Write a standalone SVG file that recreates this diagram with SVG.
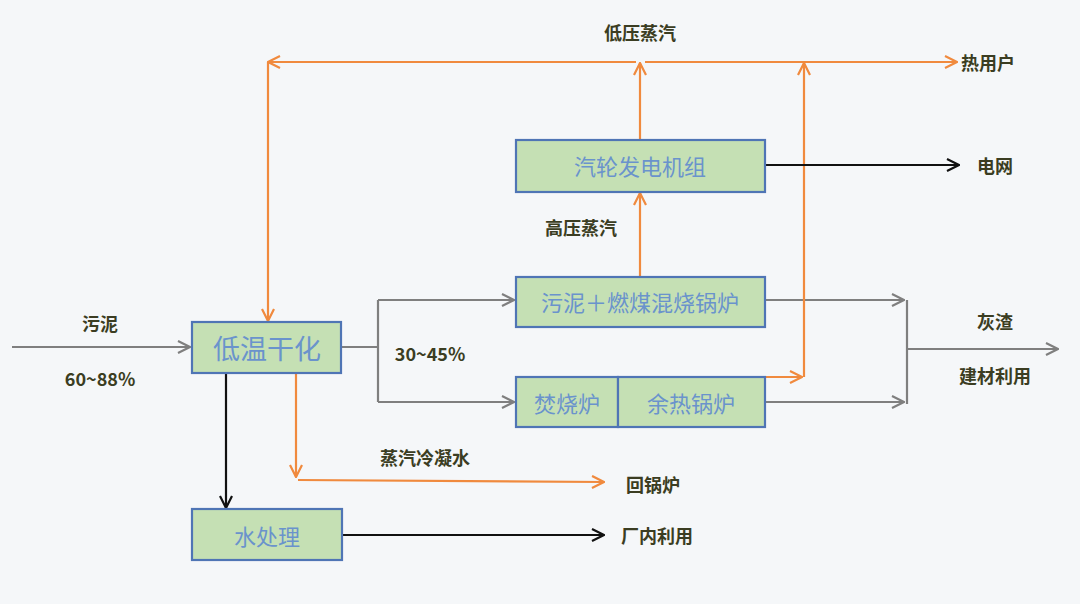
<svg xmlns="http://www.w3.org/2000/svg" width="1080" height="604" viewBox="0 0 1080 604">
<style>
.box{fill:#c5e0b4;stroke:#4f75b5;stroke-width:2.2}
.bt{font-family:"Noto Sans CJK SC","Noto Sans",sans-serif;fill:#6a93cc;text-anchor:middle;dominant-baseline:central}
.lb{font-family:"Noto Sans CJK SC","Liberation Sans",sans-serif;font-weight:bold;font-size:18px;fill:#3b3d22;text-anchor:middle;dominant-baseline:central}
.g{stroke:#7f7f7f;stroke-width:2.2;fill:none}
.o{stroke:#f08a3e;stroke-width:2.2;fill:none}
.k{stroke:#111;stroke-width:2.2;fill:none}
</style>
<defs>
<marker id="ag" viewBox="0 0 14 14" refX="13" refY="7" markerWidth="14" markerHeight="14" markerUnits="userSpaceOnUse" orient="auto"><path d="M1,1 L13,7 L1,13" fill="none" stroke="#7f7f7f" stroke-width="2.2"/></marker>
<marker id="ao" viewBox="0 0 14 14" refX="13" refY="7" markerWidth="14" markerHeight="14" markerUnits="userSpaceOnUse" orient="auto"><path d="M1,1 L13,7 L1,13" fill="none" stroke="#f08a3e" stroke-width="2.2"/></marker>
<marker id="ak" viewBox="0 0 14 14" refX="13" refY="7" markerWidth="14" markerHeight="14" markerUnits="userSpaceOnUse" orient="auto"><path d="M1,1 L13,7 L1,13" fill="none" stroke="#111" stroke-width="2.2"/></marker>
</defs>
<rect width="1080" height="604" fill="#f5f7f9"/>
<g id="connectors">
<line class="g" x1="12" y1="347" x2="190" y2="347" marker-end="url(#ag)"/>
<polyline class="g" points="342,347 378,347"/>
<polyline class="g" points="378,300 378,402"/>
<line class="g" x1="378" y1="300" x2="514" y2="300" marker-end="url(#ag)"/>
<line class="g" x1="378" y1="402" x2="514" y2="402" marker-end="url(#ag)"/>
<line class="g" x1="765" y1="300" x2="904" y2="300" marker-end="url(#ag)"/>
<line class="g" x1="765" y1="402" x2="904" y2="402" marker-end="url(#ag)"/>
<polyline class="g" points="907,300 907,404"/>
<line class="g" x1="907" y1="349" x2="1058" y2="349" marker-end="url(#ag)"/>
<line class="o" x1="640" y1="277" x2="640" y2="193" marker-end="url(#ao)"/>
<line class="o" x1="640" y1="140" x2="640" y2="63" marker-end="url(#ao)"/>
<line class="o" x1="636" y1="62" x2="268" y2="62" marker-end="url(#ao)"/>
<line class="o" x1="645" y1="62" x2="957" y2="62" marker-end="url(#ao)"/>
<line class="o" x1="268" y1="62" x2="268" y2="321" marker-end="url(#ao)"/>
<line class="o" x1="765" y1="377" x2="802" y2="377" marker-end="url(#ao)"/>
<line class="o" x1="804" y1="377" x2="804" y2="63" marker-end="url(#ao)"/>
<line class="o" x1="296" y1="374" x2="296" y2="477" marker-end="url(#ao)"/>
<line class="o" x1="298" y1="480" x2="604" y2="482" marker-end="url(#ao)"/>
<line class="k" x1="226" y1="374" x2="226" y2="508" marker-end="url(#ak)"/>
<line class="k" x1="342" y1="535" x2="604" y2="535" marker-end="url(#ak)"/>
<line class="k" x1="765" y1="165" x2="959" y2="165" marker-end="url(#ak)"/>
</g>
<g id="n-dry"><rect class="box" x="192" y="322" width="149" height="51"/><text class="bt" x="267" y="347" font-size="27">低温干化</text></g>
<g id="n-turbine"><rect class="box" x="516" y="140" width="249" height="52"/><text class="bt" x="640" y="165" font-size="22">汽轮发电机组</text></g>
<g id="n-mixboiler"><rect class="box" x="516" y="277" width="249" height="50"/><text class="bt" x="640" y="301" font-size="22">污泥＋燃煤混烧锅炉</text></g>
<g id="n-incin"><rect class="box" x="516" y="377" width="102" height="50"/><text class="bt" x="567" y="402" font-size="22">焚烧炉</text></g>
<g id="n-whb"><rect class="box" x="618" y="377" width="147" height="50"/><text class="bt" x="691" y="402" font-size="22">余热锅炉</text></g>
<g id="n-water"><rect class="box" x="192" y="509" width="150" height="51"/><text class="bt" x="267" y="535" font-size="22">水处理</text></g>
<g id="labels">
<text class="lb" x="100" y="323">污泥</text>
<text class="lb" x="100" y="378">60~88%</text>
<text class="lb" x="430" y="353">30~45%</text>
<text class="lb" x="640" y="32">低压蒸汽</text>
<text class="lb" x="988" y="62">热用户</text>
<text class="lb" x="995" y="165">电网</text>
<text class="lb" x="581" y="227">高压蒸汽</text>
<text class="lb" x="995" y="321">灰渣</text>
<text class="lb" x="995" y="375">建材利用</text>
<text class="lb" x="425" y="457">蒸汽冷凝水</text>
<text class="lb" x="653" y="484">回锅炉</text>
<text class="lb" x="657" y="535">厂内利用</text>
</g>
</svg>
